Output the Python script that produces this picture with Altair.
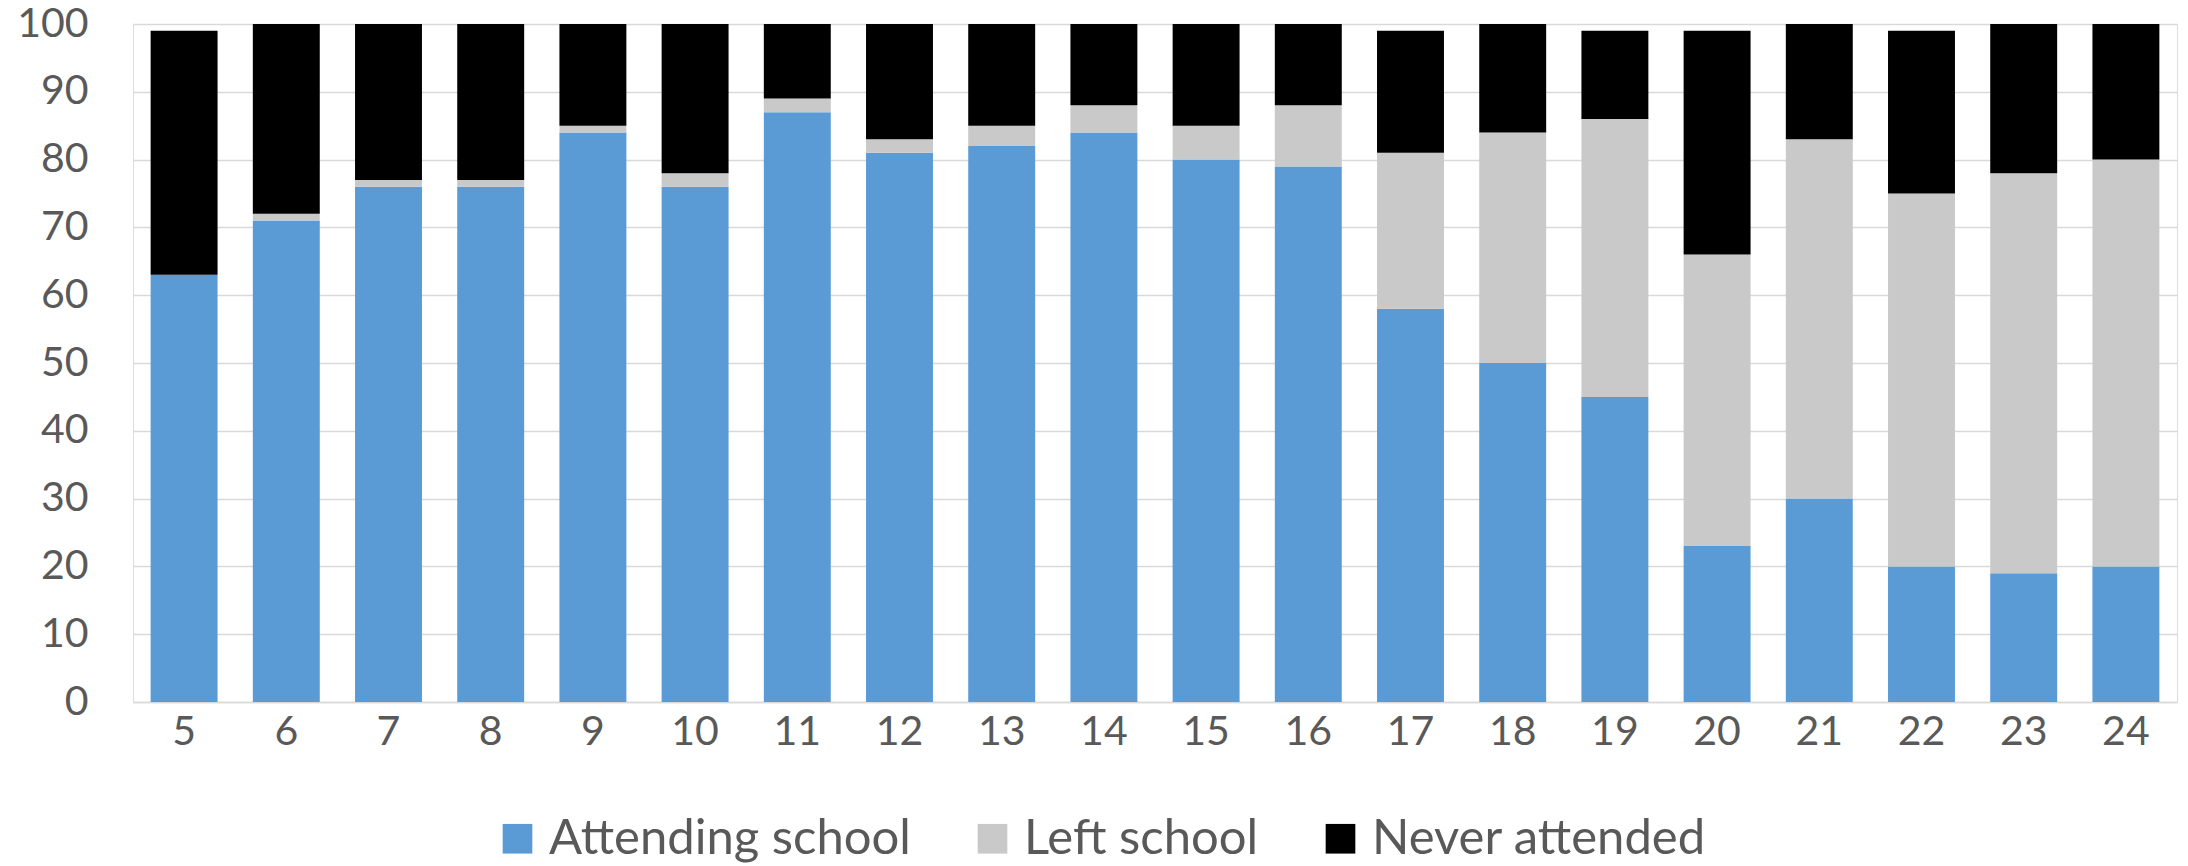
import altair as alt
import pandas as pd

ages = [5, 6, 7, 8, 9, 10, 11, 12, 13, 14, 15, 16, 17, 18, 19, 20, 21, 22, 23, 24]
attending = [63, 71, 76, 76, 84, 76, 87, 81, 82, 84, 80, 79, 58, 50, 45, 23, 30, 20, 19, 20]
left_school = [0, 1, 1, 1, 1, 2, 2, 2, 3, 4, 5, 9, 23, 34, 41, 43, 53, 55, 59, 60]
never = [36, 28, 23, 23, 15, 22, 11, 17, 15, 12, 15, 12, 18, 16, 13, 33, 17, 24, 22, 20]

series = ["Attending school", "Left school", "Never attended"]
colors = ["#5B9BD5", "#C9C9C9", "#000000"]

rows = []
for i, a in enumerate(ages):
    for k, (name, vals) in enumerate(zip(series, [attending, left_school, never])):
        rows.append({"age": str(a), "status": name, "value": vals[i], "order": k})
df = pd.DataFrame(rows)

FONT = "Lato"

chart = alt.Chart(df).mark_bar().encode(
    x=alt.X("age:N", sort=[str(a) for a in ages], title=None,
            scale=alt.Scale(paddingInner=0.345, paddingOuter=0.1725),
            axis=alt.Axis(labelAngle=0, labelFontSize=41, labelFont=FONT, labelColor="#595959",
                          ticks=False, domainColor="#D9D9D9", domainWidth=1.5, labelPadding=10,
                          grid=False)),
    y=alt.Y("value:Q", stack="zero", title=None,
            scale=alt.Scale(domain=[0, 100], nice=False),
            axis=alt.Axis(values=list(range(0, 101, 10)), labelFontSize=41, labelFont=FONT,
                          labelColor="#595959", ticks=False, domain=False, labelPadding=45,
                          gridColor="#D9D9D9", gridWidth=1.5)),
    color=alt.Color("status:N", scale=alt.Scale(domain=series, range=colors),
                    legend=alt.Legend(title=None, orient="none", direction="horizontal",
                                      legendX=360, legendY=790, symbolType="square",
                                      symbolSize=880, symbolStrokeWidth=0, labelFontSize=49,
                                      labelFont=FONT, labelColor="#595959", labelOffset=7,
                                      labelLimit=0, columnPadding=57, padding=0)),
    order=alt.Order("order:Q"),
).properties(
    width=2044, height=678,
    autosize=alt.AutoSizeParams(type="none"),
    padding={"left": 125, "top": 16, "right": 3, "bottom": 164},
).configure_view(stroke=None).configure(background="white")

chart.save("out.html", embed_options={"renderer": "svg", "actions": False})
